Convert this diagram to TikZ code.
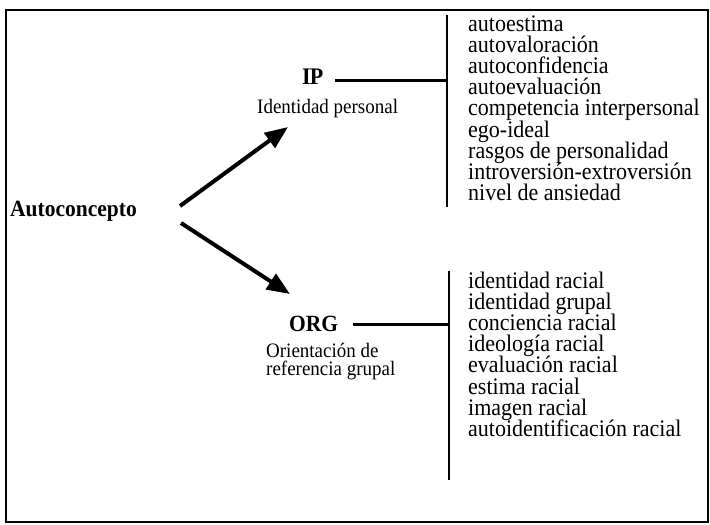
\documentclass[tikz,border=0pt]{standalone}
\usepackage{fontspec}
\setmainfont{Liberation Serif}
\usetikzlibrary{arrows.meta}

% slightly tall setting of the type
\newcommand\tallbox[1]{\scalebox{1}[1.08]{#1}}

\begin{document}
\begin{tikzpicture}[x=1pt,y=-1pt,
  txt/.style={inner sep=0pt, anchor=base west},
  itemtext/.style={txt, font=\fontsize{22}{24}\selectfont,
    text height=15pt, text depth=5pt},
  headtext/.style={txt, font=\fontsize{21.5}{24}\selectfont\bfseries},
  subtext/.style={txt, font=\fontsize{19}{21}\selectfont,
    text height=13pt, text depth=4pt},
  link/.style={line width=3pt},
  bar/.style={line width=2.5pt},
  flow/.style={line width=4pt, -{Triangle[length=23pt,width=18pt]}},
]
\useasboundingbox (0,0) rectangle (710,525);
\draw[line width=2pt] (5.5,10) rectangle (708,522);

% central concept and the two branches
\node[headtext] (auto) at (10,216) {\tallbox{Autoconcepto}};
\node[headtext, font=\fontsize{22}{24}\selectfont\bfseries] (ip) at (302,84) {\tallbox{I\kern-1ptP}};
\node[subtext] (ipsub) at (257,113.5) {\tallbox{Identidad personal}};
\node[headtext] (org) at (289,331) {\tallbox{ORG}};
\node[subtext] (orgsub1) at (266,357) {\tallbox{Orientación de}};
\node[subtext] (orgsub2) at (266,375) {\tallbox{referencia grupal}};

% arrows from the concept to each branch
\coordinate (upstart) at (180,206);
\coordinate (upend) at (288,127);
\coordinate (downstart) at (181,223);
\coordinate (downend) at (290,294);
\draw[flow] (upstart) -- (upend);
\draw[flow] (downstart) -- (downend);

% IP bracket and list
\coordinate (ipbartop) at (447,15);
\coordinate (ipbarbot) at (447,207);
\coordinate (iplink) at (335,80);
\draw[bar] (ipbartop) -- (ipbarbot);
\draw[link] (iplink) -- (iplink -| ipbartop);
\foreach \t [count=\i from 0] in {autoestima, autovaloración, autoconfidencia,
  autoevaluación, competencia interpersonal, ego-ideal,
  rasgos de personalidad, introversión-extroversión, nivel de ansiedad}
  \node[itemtext] (ipitem\i) at (468,31+21.2*\i) {\tallbox{\t}};

% ORG bracket and list
\coordinate (orgbartop) at (449,271);
\coordinate (orgbarbot) at (449,480);
\coordinate (orglink) at (353,324);
\draw[bar] (orgbartop) -- (orgbarbot);
\draw[link] (orglink) -- (orglink -| orgbartop);
\foreach \t [count=\i from 0] in {identidad racial, identidad grupal,
  conciencia racial, ideología racial, evaluación racial, estima racial,
  imagen racial, autoidentificación racial}
  \node[itemtext] (orgitem\i) at (468,288+21.2*\i) {\tallbox{\t}};
\end{tikzpicture}
\end{document}
